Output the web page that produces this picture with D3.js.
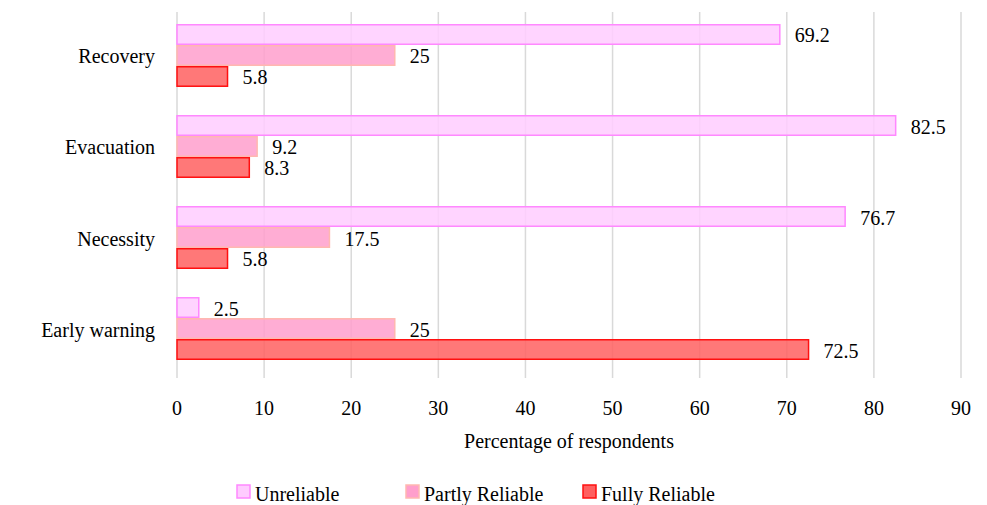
<!DOCTYPE html>
<html>
<head>
<meta charset="utf-8">
<script src="https://cdn.jsdelivr.net/npm/d3@7"></script>
<style>
body{margin:0;background:#fff;}
.canvas{position:relative;width:987px;height:505px;}
.canvas svg{position:absolute;left:0;top:0;}
.lbl{position:absolute;font-size:20px;line-height:20px;color:#000;white-space:nowrap;}
</style>
</head>
<body>
<div class="canvas"></div>
<script>
// data
const categories = ['Recovery','Evacuation','Necessity','Early warning'];
const seriesNames = ['Unreliable','Partly Reliable','Fully Reliable'];
const unreliable = [69.2, 82.5, 76.7, 2.5];
const partly = [25, 9.2, 17.5, 25];
const fully = [5.8, 8.3, 5.8, 72.5];
const xTicks = [0,10,20,30,40,50,60,70,80,90];

const fills = ['#ffccff','#ff9fcc','#ff6060'];
const strokes = ['#ff88ff','#ffb8b0','#ff1010'];

const canvas = d3.select('.canvas');
const svg = canvas.append('svg')
    .attr('width', 987)
    .attr('height', 505);

const margin = {top:12, right:26, bottom:127, left:177};
const graphWidth = 987 - margin.left - margin.right;
const graphHeight = 505 - margin.top - margin.bottom;

const graph = svg.append('g')
.attr('transform', `translate(${margin.left},${margin.top})`);

const x = d3.scaleLinear().domain([0,90]).range([0,graphWidth]);
const y = d3.scaleBand().domain(categories).range([12,348]).paddingInner(0.308).paddingOuter(0);
const ySub = d3.scaleBand().domain(seriesNames).range([0,y.bandwidth()]);

// text labels as html; baseline ~16px below top
const label = (txt, px, baseline, anchor) => {
    const shift = anchor==='middle' ? '-50%' : anchor==='end' ? '-100%' : '0';
    canvas.append('div').attr('class','lbl')
        .style('font-family', "'Liberation Serif', 'Times New Roman', serif", 'important')
        .style('left', px+'px')
        .style('top', (baseline-16)+'px')
        .style('transform', `translateX(${shift})`)
        .text(txt);
};

// gridlines
graph.selectAll('line.grid')
.data(xTicks)
.enter().append('line')
    .attr('x1', d=>x(d)).attr('x2', d=>x(d))
    .attr('y1', 0).attr('y2', graphHeight)
    .attr('stroke', '#d9d9d9')
    .attr('stroke-width', 1.5);

// x tick labels
xTicks.forEach(t => label(t, margin.left + x(t), 414, 'middle'));

// category labels
categories.forEach(c => label(c, margin.left - 22, margin.top + y(c) + y.bandwidth()/2 + 7, 'end'));

const seriesData = [unreliable, partly, fully];
const rows = [];
seriesData.forEach((vals,si)=>{
    vals.forEach((v,ci)=>{
        rows.push({cat:categories[ci], series:seriesNames[si], si:si, value:v});
    });
});

graph.selectAll('rect.bar')
.data(rows)
.enter().append('rect')
    .attr('x', x(0))
    .attr('y', d=>y(d.cat)+ySub(d.series)+0.75)
    .attr('width', d=>x(d.value)-x(0))
    .attr('height', ySub.bandwidth()-1.5)
    .attr('fill', d=>fills[d.si])
    .attr('fill-opacity', 0.85)
    .attr('stroke', d=>strokes[d.si])
    .attr('stroke-width', 1.5);

// value labels
rows.forEach(d => label(d.value, margin.left + x(d.value) + 15,
    margin.top + y(d.cat) + ySub(d.series) + ySub.bandwidth()/2 + 7, 'start'));

// axis title
label('Percentage of respondents', margin.left + graphWidth/2, 447, 'middle');

// legend
const legendX = [237, 406, 583];
const legend = svg.selectAll('g.legend')
.data(seriesNames)
.enter().append('g')
    .attr('transform', (d,i)=>`translate(${legendX[i]},485)`);
legend.append('rect')
    .attr('width', 13).attr('height', 13)
    .attr('fill', (d,i)=>fills[i])
    .attr('stroke', (d,i)=>strokes[i])
    .attr('stroke-width', 1.5);
seriesNames.forEach((s,i) => label(s, legendX[i] + 18, 500, 'start'));
</script>
</body>
</html>
